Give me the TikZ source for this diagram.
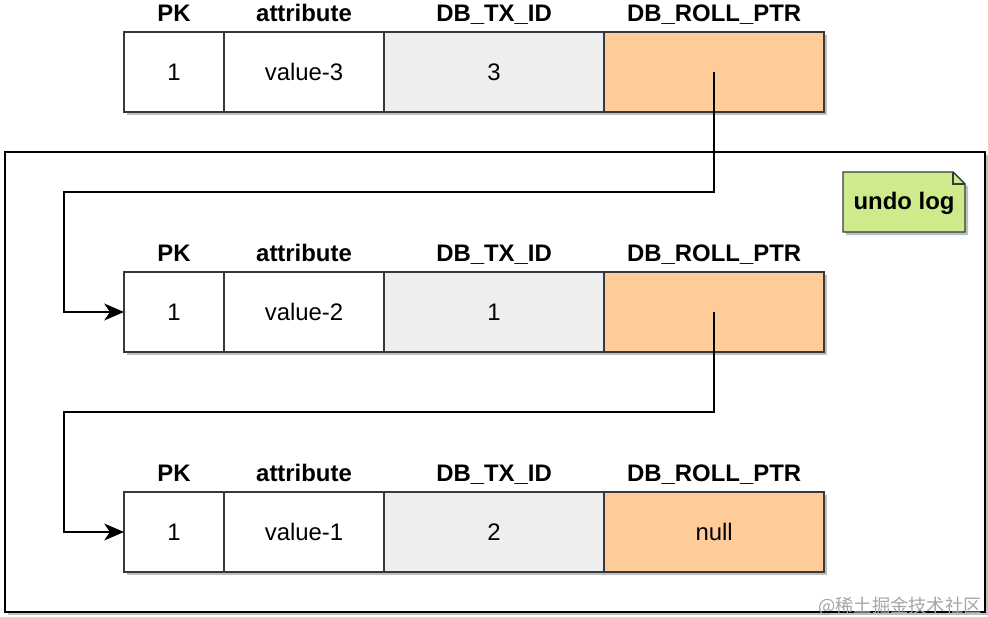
\documentclass[tikz,border=0pt]{standalone}
\usepackage{fontspec}
\setmainfont{Liberation Sans}
\newfontfamily\cjk{Noto Sans CJK SC}
\usepackage{tikz}
\usetikzlibrary{positioning, shadows, arrows.meta}
\definecolor{cellline}{HTML}{36393D}
\definecolor{txgray}{HTML}{EEEEEE}
\definecolor{ptrorange}{HTML}{FFCC99}
\definecolor{notegreen}{HTML}{CDEB8B}
\tikzset{
    cell/.style={rectangle, draw=cellline, line width=1pt, fill=white, minimum height=2cm, inner sep=0pt, outer sep=0pt, font=\fontsize{17}{20}\selectfont, drop shadow={shadow xshift=2.2pt, shadow yshift=-2.2pt, fill=black!25, opacity=1}},
    hdr/.style={font=\bfseries\fontsize{17}{20}\selectfont, anchor=base, inner sep=0pt},
    link/.style={-{Stealth[length=14pt, width=12pt, inset=4pt]}, line width=1pt},
}

\begin{document}
\begin{tikzpicture}[x=0.025cm, y=-0.025cm]
    \useasboundingbox (0,0) rectangle (988,617);

    % undo log frame
    \draw[line width=1pt, fill=white, drop shadow={shadow xshift=2.2pt, shadow yshift=-2.2pt, fill=black!25, opacity=1}] (5,152) rectangle (985,612);

    % note
    \draw[draw=cellline, line width=1pt, fill=notegreen, drop shadow={shadow xshift=2.2pt, shadow yshift=-2.2pt, fill=black!25, opacity=1}] (843,172) -- (953,172) -- (965,184) -- (965,232) -- (843,232) -- cycle;
    \draw[draw=cellline, line width=0.8pt] (953,172) -- (953,184) -- (965,184);
    \node[font=\bfseries\fontsize{17}{20}\selectfont] (note) at (904,203) {undo log};

    % rows
    \foreach \r/\yy/\val/\tx/\ptr in {1/32/value-3/3/{}, 2/272/value-2/1/{}, 3/492/value-1/2/null} {
        \node[cell, minimum width=2.5cm] (pk\r) at (174, {\yy+40}) {1};
        \node[cell, minimum width=4cm, right=0pt of pk\r] (attr\r) {\val};
        \node[cell, minimum width=5.5cm, fill=txgray, right=0pt of attr\r] (tx\r) {\tx};
        \node[cell, minimum width=5.5cm, fill=ptrorange, right=0pt of tx\r] (ptr\r) {\ptr};
        \node[hdr] (hpk\r) at ([yshift=0.25cm]pk\r.north) {PK};
        \node[hdr] (hattr\r) at ([yshift=0.25cm]attr\r.north) {attribute};
        \node[hdr] (htx\r) at ([yshift=0.25cm]tx\r.north) {DB\_TX\_ID};
        \node[hdr] (hptr\r) at ([yshift=0.25cm]ptr\r.north) {DB\_ROLL\_PTR};
    }

    % roll pointers
    \draw[link] (ptr1.center) -- ++(0,120) -| ([xshift=-1.5cm]pk2.west) -- (pk2.west);
    \draw[link] (ptr2.center) -- ++(0,100) -| ([xshift=-1.5cm]pk3.west) -- (pk3.west);

    \node[anchor=west, text=black!35, font=\cjk\fontsize{13}{16}\selectfont, inner sep=0pt] (mark) at (818,606) {@稀土掘金技术社区};
\end{tikzpicture}
\end{document}
